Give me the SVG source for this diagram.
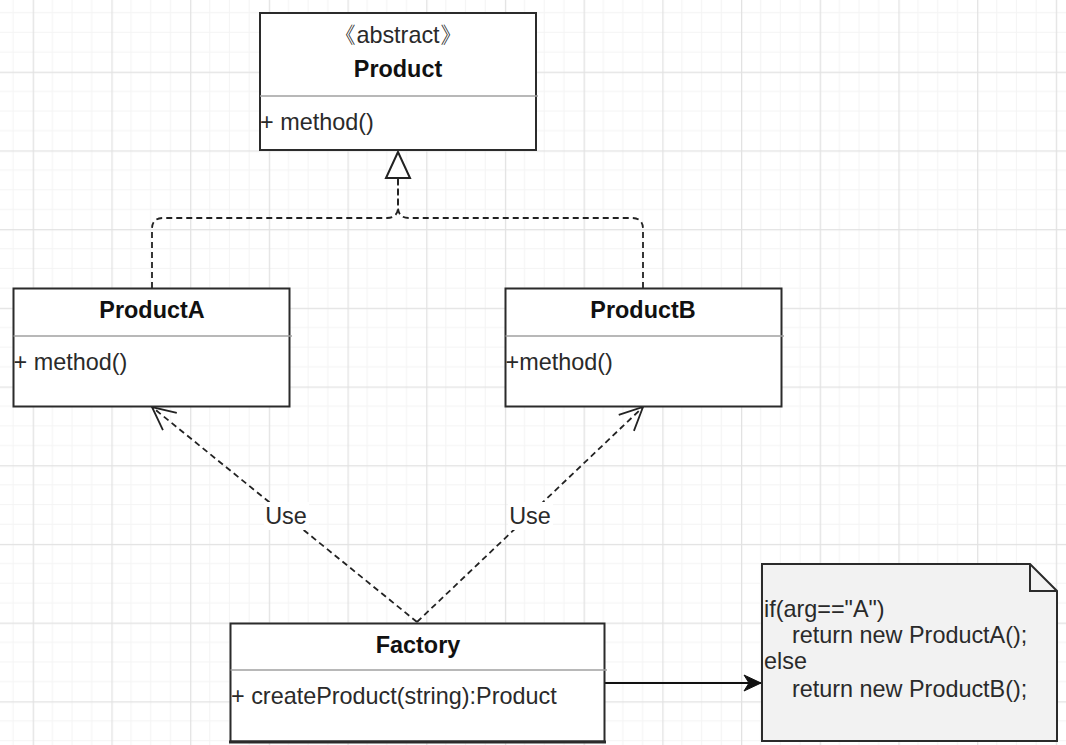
<svg xmlns="http://www.w3.org/2000/svg" width="1066" height="745" viewBox="0 0 1066 745">
<style>
.box{fill:#ffffff;stroke:#2b2b2b;stroke-width:2}
.div{stroke:#a0a0a0;stroke-width:1.5}
.t{font-family:"Liberation Sans",Arial,sans-serif;font-size:23.4px;fill:#2a2a2a}
.b{font-weight:bold;fill:#111}
.dash{fill:none;stroke:#222;stroke-width:1.8;stroke-dasharray:6 4}
</style>
<defs>
<pattern id="grid" patternUnits="userSpaceOnUse" x="32.7" y="71.7" width="78.7" height="78.7">
<rect width="78.7" height="78.7" fill="#ffffff"/>
<path d="M19.67,0V78.7M39.35,0V78.7M59.02,0V78.7M0,19.67H78.7M0,39.35H78.7M0,59.02H78.7" stroke="#f4f4f4" stroke-width="1"/>
<path d="M0.5,0V78.7M0,0.5H78.7" stroke="#e2e2e2" stroke-width="1.5"/>
</pattern>
<marker id="open" markerUnits="userSpaceOnUse" markerWidth="30" markerHeight="26" viewBox="0 0 30 26" refX="26" refY="12" orient="auto" overflow="visible">
<path d="M3,1 L26,12 L3,23" fill="none" stroke="#222" stroke-width="1.8" stroke-dasharray="none"/>
</marker>
<marker id="fill" markerUnits="userSpaceOnUse" markerWidth="20" markerHeight="20" viewBox="0 0 20 20" refX="17" refY="10" orient="auto" overflow="visible">
<path d="M17,10 L0,2 L5,10 L0,18 Z" fill="#111" stroke="#111" stroke-width="1"/>
</marker>
</defs>
<rect width="1066" height="745" fill="url(#grid)"/>

<g id="connectors">
<path class="dash" d="M152,288 V229 Q152,218 163,218 H387 Q398,218 398,207 V178"/>
<path class="dash" d="M643,288 V229 Q643,218 632,218 H409 Q398,218 398,207 V178"/>
<polygon points="398,152 410,178 386,178" fill="#ffffff" stroke="#222" stroke-width="2"/>
<path class="dash" d="M417,622 L152,407" marker-end="url(#open)"/>
<path class="dash" d="M417,622 L643,407" marker-end="url(#open)"/>
<rect x="264" y="502" width="45" height="28" fill="#ffffff"/>
<text class="t" x="286" y="524" text-anchor="middle">Use</text>
<rect x="508" y="502" width="45" height="28" fill="#ffffff"/>
<text class="t" x="530" y="524" text-anchor="middle">Use</text>
<path d="M605,683 H761" fill="none" stroke="#111" stroke-width="2" marker-end="url(#fill)"/>
</g>

<g id="product">
<rect class="box" x="260" y="13" width="276" height="137"/>
<line class="div" x1="260" y1="96" x2="538" y2="96"/>
<text class="t" x="398" y="43" text-anchor="middle">《abstract》</text>
<text class="t b" x="398" y="77" text-anchor="middle">Product</text>
<text class="t" x="260" y="130">+ method()</text>
</g>

<g id="productA">
<rect class="box" x="13.5" y="288.5" width="276" height="118"/>
<line class="div" x1="13.5" y1="336" x2="292" y2="336"/>
<text class="t b" x="152" y="318" text-anchor="middle">ProductA</text>
<text class="t" x="13.5" y="370">+ method()</text>
</g>

<g id="productB">
<rect class="box" x="505.5" y="288.5" width="276" height="118"/>
<line class="div" x1="505.5" y1="336" x2="784" y2="336"/>
<text class="t b" x="643" y="318" text-anchor="middle">ProductB</text>
<text class="t" x="505.5" y="370">+method()</text>
</g>

<g id="factory">
<rect class="box" x="230.5" y="623.5" width="374" height="118"/>
<line x1="229" y1="742" x2="606" y2="742" stroke="#2b2b2b" stroke-width="3"/>
<line class="div" x1="230.5" y1="670" x2="607" y2="670"/>
<text class="t b" x="418" y="653" text-anchor="middle">Factory</text>
<text class="t" x="231" y="704">+ createProduct(string):Product</text>
</g>

<g id="note">
<path d="M762,564 H1030 L1057,591 V741 H762 Z" fill="#f2f2f2" stroke="#2b2b2b" stroke-width="2"/>
<path d="M1030,564 V591 H1057" fill="none" stroke="#2b2b2b" stroke-width="2"/>
<text class="t" x="764" y="617">if(arg=="A")</text>
<text class="t" x="792" y="643">return new ProductA();</text>
<text class="t" x="764" y="669">else</text>
<text class="t" x="792" y="697">return new ProductB();</text>
</g>
</svg>
